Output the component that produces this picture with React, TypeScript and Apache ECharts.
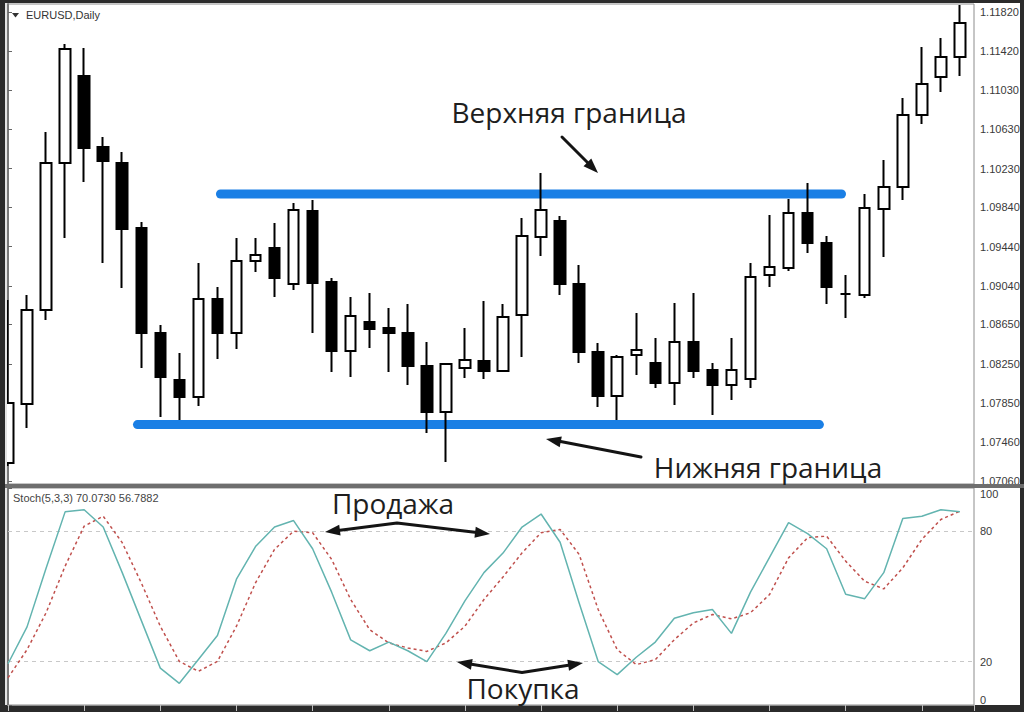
import React, { useEffect, useRef } from "react";
import * as echarts from "echarts";

// ---------- data ----------
const symbolTitle = "EURUSD,Daily";
const stochTitle = "Stoch(5,3,3) 70.0730 56.7882";
const upperLabel = "Верхняя граница";
const lowerLabel = "Нижняя граница";
const sellLabel = "Продажа";
const buyLabel = "Покупка";

const opens = [
  1.07243, 1.07841, 1.08796, 1.10287, 1.1117, 1.1045, 1.10287, 1.09628, 1.08562, 1.08085,
  1.07913, 1.08907, 1.08562, 1.09293, 1.09425, 1.09059, 1.098, 1.0908, 1.08379, 1.08674,
  1.08613, 1.08562, 1.08227, 1.0776, 1.08207, 1.08278, 1.08176, 1.08745, 1.09536, 1.09699,
  1.09059, 1.08369, 1.07923, 1.08339, 1.08258, 1.08055, 1.08471, 1.08187, 1.08034, 1.08095,
  1.09151, 1.09222, 1.0978, 1.09476, 1.08958, 1.08948, 1.09821, 1.10044, 1.10775, 1.1116,
  1.11363,
];
const closes = [
  1.07852, 1.08796, 1.10287, 1.11444, 1.1044, 1.10308, 1.09618, 1.08562, 1.08116, 1.07913,
  1.08907, 1.08562, 1.09293, 1.09354, 1.0912, 1.0981, 1.0907, 1.08379, 1.08735, 1.08603,
  1.08562, 1.08227, 1.0776, 1.08247, 1.08288, 1.08176, 1.08724, 1.09547, 1.0981, 1.09059,
  1.08369, 1.07923, 1.08319, 1.0839, 1.08055, 1.08471, 1.08176, 1.08034, 1.08187, 1.0913,
  1.09232, 1.0978, 1.09476, 1.09029, 1.08958, 1.09831, 1.10044, 1.10775, 1.11089, 1.11363,
  1.11708,
];
const lows = [
  1.07212, 1.07598, 1.08694, 1.09526, 1.10095, 1.09272, 1.09019, 1.08207, 1.0771, 1.07679,
  1.07821, 1.08298, 1.084, 1.09181, 1.08927, 1.08998, 1.08562, 1.08166, 1.08116, 1.0841,
  1.08166, 1.08034, 1.07547, 1.07253, 1.08105, 1.08095, 1.08176, 1.08319, 1.09344, 1.08948,
  1.08258, 1.07811, 1.07679, 1.08136, 1.08004, 1.07831, 1.08105, 1.0773, 1.07882, 1.08004,
  1.09029, 1.09191, 1.09374, 1.08856, 1.08714, 1.08917, 1.09333, 1.09912, 1.10683, 1.11008,
  1.1117,
];
const highs = [
  1.08897, 1.08948, 1.10602, 1.11495, 1.11455, 1.10551, 1.10399, 1.09689, 1.08643, 1.08359,
  1.09272, 1.09029, 1.09526, 1.09526, 1.09678, 1.09881, 1.09912, 1.0912, 1.08927, 1.08968,
  1.08816, 1.08856, 1.08471, 1.08247, 1.08613, 1.08887, 1.08856, 1.09729, 1.10186, 1.0975,
  1.09252, 1.08461, 1.08339, 1.08765, 1.08511, 1.08867, 1.08968, 1.08258, 1.08511, 1.09272,
  1.0976, 1.09922, 1.10084, 1.09547, 1.09151, 1.09973, 1.10318, 1.10947, 1.11465, 1.11556,
  1.11891,
];

const stochK = [
  19, 36, 63, 89, 90, 82, 61, 39, 17, 10, 21, 32, 58, 73, 82, 85, 72, 52, 30, 25, 29, 25, 20,
  33, 48, 61, 70, 82, 88, 75, 47, 20, 14, 22, 29, 40, 42.5, 44, 33, 52, 68, 84, 79, 72, 51, 49,
  61, 86, 87, 90, 89,
];
const stochD = [
  12.5, 25.5, 42.5, 64, 82.4, 87, 74.8, 56.3, 36.3, 20.1, 15.5, 20.1, 36.3, 56.3, 71.7, 80.1,
  79.4, 67.1, 48.6, 34.7, 28.6, 26.3, 24.7, 28.6, 36.3, 48.6, 59, 70.1, 79.4, 80.9, 69.4, 44,
  25.5, 18.6, 20.9, 30.1, 37.8, 41.7, 39.7, 42.5, 50.9, 67.8, 77.1, 77.8, 66.3, 57, 53.5, 63.2,
  76.3, 85.5, 89.3,
];

const priceTicks = [
  1.0706, 1.0746, 1.0785, 1.0825, 1.0865, 1.0904, 1.0944, 1.0984, 1.1023, 1.1063, 1.1103,
  1.1142, 1.1182,
];
const stochTicks = [0, 20, 80, 100];
const stochLevels = [20, 80];

const upperLevel = 1.09973;
const upperSpan = [11.16, 43.78];
const lowerLevel = 1.07633;
const lowerSpan = [6.8, 42.62];

const X_MAX = 50.74;
const PRICE_MIN = 1.0703;
const PRICE_MAX = 1.11901;

// ---------- helpers ----------
const INK = "#141414";
const FRAME = "#2b2b2b";
const AXIS_FONT = '"Liberation Sans", Arial, sans-serif';
const BIG_FONT = '"Open Sans", "Noto Sans", sans-serif';

function head(tip: number[], from: number[], len = 15, half = 5.5) {
  const dx = tip[0] - from[0];
  const dy = tip[1] - from[1];
  const L = Math.hypot(dx, dy);
  const ux = dx / L;
  const uy = dy / L;
  const bx = tip[0] - ux * len;
  const by = tip[1] - uy * len;
  return {
    type: "polygon",
    z: 100,
    shape: { points: [tip, [bx - uy * half, by + ux * half], [bx + uy * half, by - ux * half]] },
    style: { fill: INK },
  };
}
function shaft(points: number[][]) {
  return {
    type: "polyline",
    z: 100,
    shape: { points },
    style: { stroke: INK, lineWidth: 3, fill: null, lineCap: "round", lineJoin: "round" },
  };
}
function bigText(text: string, x: number, y: number) {
  return {
    type: "text",
    z: 100,
    style: {
      text,
      x,
      y,
      fill: "#1e1e1e",
      font: `28px ${BIG_FONT}`,
      textAlign: "center",
      textVerticalAlign: "middle",
    },
  };
}

function buildOption() {
  const candleData = opens.map((o, i) => [i, o, closes[i], lows[i], highs[i]]);
  const kData = stochK.map((v, i) => [i, v]);
  const dData = stochD.map((v, i) => [i, v]);

  const graphic: any[] = [
    { type: "rect", z: -10, shape: { x: 5, y: 3, width: 1015, height: 481 }, style: { fill: "#fff" } },
    { type: "rect", z: -10, shape: { x: 5, y: 488, width: 1015, height: 217 }, style: { fill: "#fff" } },
    { type: "rect", z: 50, shape: { x: 0, y: 484, width: 1024, height: 4 }, style: { fill: "#6e6e6e" } },
    // left frame covering overflow of the first candle
    { type: "rect", z: 50, shape: { x: 0, y: 0, width: 5, height: 712 }, style: { fill: FRAME } },
    { type: "rect", z: 50, shape: { x: 5, y: 3, width: 2, height: 481 }, style: { fill: "#e4e4e4" } },
    { type: "rect", z: 50, shape: { x: 5, y: 488, width: 2, height: 217 }, style: { fill: "#e4e4e4" } },
    { type: "polygon", z: 100, shape: { points: [[12, 13], [19, 13], [15.5, 17.5]] }, style: { fill: "#333" } },
    {
      type: "text",
      z: 100,
      style: { text: symbolTitle, x: 26, y: 15, fill: "#333", font: `11px ${AXIS_FONT}`, textVerticalAlign: "middle" },
    },
    {
      type: "text",
      z: 100,
      style: { text: stochTitle, x: 13, y: 498, fill: "#444", font: `11px ${AXIS_FONT}`, textVerticalAlign: "middle" },
    },
    bigText(upperLabel, 569, 112),
    bigText(lowerLabel, 768, 467),
    bigText(sellLabel, 393, 503),
    bigText(buyLabel, 523, 688),
    // upper arrow
    shaft([[562, 137], [588, 163]]),
    head([598, 173], [562, 137]),
    // lower arrow
    shaft([[641, 457], [558, 441]]),
    head([546, 439], [641, 457]),
    // sell double arrow
    shaft([[338, 530.5], [397, 523], [477, 532.5]]),
    head([325, 532], [397, 523]),
    head([490, 534], [397, 523]),
    // buy double arrow
    shaft([[470, 664], [522, 672.5], [570, 665]]),
    head([457, 662], [522, 672.5]),
    head([583, 663], [522, 672.5]),
  ];

  return {
    animation: false,
    backgroundColor: FRAME,
    graphic,
    grid: [
      { left: 8, top: 4, width: 966, height: 480, show: true, backgroundColor: "transparent", borderColor: "#8c8c8c", borderWidth: 1 },
      { left: 8, top: 488, width: 966, height: 217, show: true, backgroundColor: "transparent", borderColor: "#8c8c8c", borderWidth: 1 },
    ],
    xAxis: [
      { type: "value", gridIndex: 0, min: 0, max: X_MAX, show: false },
      {
        type: "value",
        gridIndex: 1,
        min: 0,
        max: X_MAX,
        interval: 4,
        axisLine: { show: true, lineStyle: { color: "#8c8c8c", width: 1 } },
        axisTick: { show: true, length: 6, lineStyle: { color: "#bdbdbd", width: 1 } },
        axisLabel: { show: false },
        splitLine: { show: false },
      },
    ],
    yAxis: [
      {
        type: "value",
        gridIndex: 0,
        position: "right",
        min: PRICE_MIN,
        max: PRICE_MAX,
        scale: true,
        axisLine: { show: true, lineStyle: { color: "#7a7a7a", width: 2 } },
        axisTick: { show: true, length: 4, customValues: priceTicks, lineStyle: { color: "#666" } },
        axisLabel: {
          customValues: priceTicks,
          formatter: (v: number) => v.toFixed(5),
          color: "#3a3a3a",
          fontSize: 11,
          fontFamily: AXIS_FONT,
          margin: 6,
        },
        splitLine: { show: false },
      },
      {
        type: "value",
        gridIndex: 1,
        position: "right",
        min: 0,
        max: 100,
        axisLine: { show: true, lineStyle: { color: "#7a7a7a", width: 2 } },
        axisTick: { show: true, length: 4, customValues: stochTicks, lineStyle: { color: "#666" } },
        axisLabel: {
          customValues: stochTicks,
          color: "#3a3a3a",
          fontSize: 11,
          fontFamily: AXIS_FONT,
          margin: 6,
          verticalAlignMaxLabel: "top",
          verticalAlignMinLabel: "bottom",
        },
        splitLine: { show: false },
      },
    ],
    series: [
      {
        type: "line",
        name: upperLabel,
        xAxisIndex: 0,
        yAxisIndex: 0,
        data: upperSpan.map((x) => [x, upperLevel]),
        symbol: "none",
        silent: true,
        z: 1,
        lineStyle: { color: "#1a7fe5", width: 9, cap: "round" },
      },
      {
        type: "line",
        name: lowerLabel,
        xAxisIndex: 0,
        yAxisIndex: 0,
        data: lowerSpan.map((x) => [x, lowerLevel]),
        symbol: "none",
        silent: true,
        z: 1,
        lineStyle: { color: "#1a7fe5", width: 9, cap: "round" },
      },
      {
        type: "candlestick",
        name: symbolTitle,
        xAxisIndex: 0,
        yAxisIndex: 0,
        data: candleData,
        barWidth: 11,
        z: 3,
        itemStyle: {
          color: "#ffffff",
          color0: "#000000",
          borderColor: "#000000",
          borderColor0: "#000000",
          borderColorDoji: "#000000",
          borderWidth: 2,
        },
      },
      {
        type: "line",
        name: "%D",
        xAxisIndex: 1,
        yAxisIndex: 1,
        data: dData,
        symbol: "none",
        z: 3,
        lineStyle: { color: "#c0504d", width: 1.5, type: [3, 3] },
      },
      {
        type: "line",
        name: "%K",
        xAxisIndex: 1,
        yAxisIndex: 1,
        data: kData,
        symbol: "none",
        z: 4,
        lineStyle: { color: "#63b4b0", width: 1.5 },
        markLine: {
          silent: true,
          symbol: "none",
          z: 1,
          label: { show: false },
          lineStyle: { color: "#c8c8c8", type: [4, 4], width: 1 },
          data: stochLevels.map((v) => ({ yAxis: v })),
        },
      },
    ],
  };
}

export default function App() {
  const ref = useRef<HTMLDivElement>(null);
  useEffect(() => {
    const chart = echarts.init(ref.current!, null, { renderer: "svg" });
    chart.setOption(buildOption() as any);
    return () => chart.dispose();
  }, []);
  return (
    <div
      ref={ref}
      style={{ position: "fixed", left: 0, top: 0, width: 1024, height: 712 }}
    />
  );
}
